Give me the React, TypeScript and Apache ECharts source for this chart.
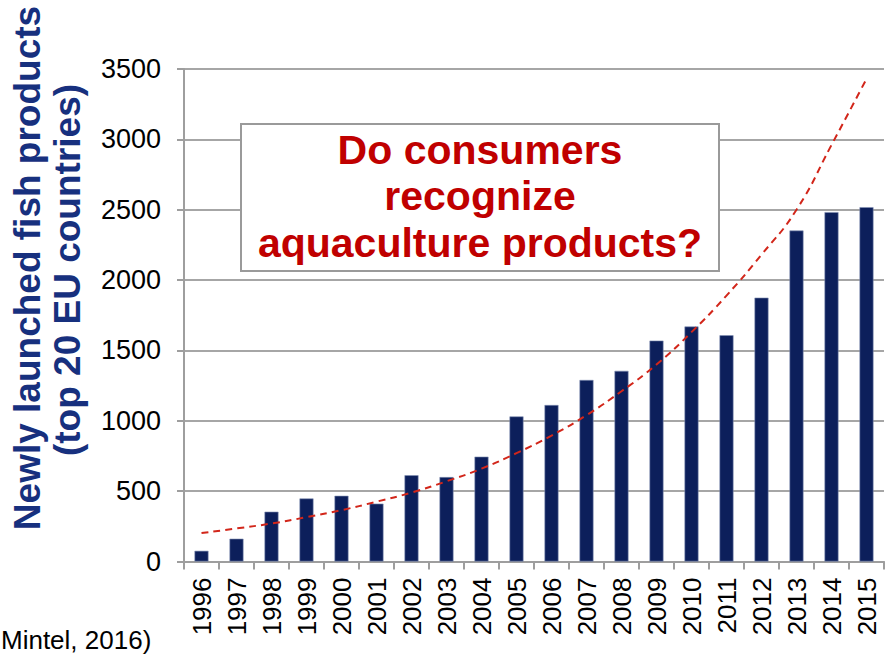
import React, { useEffect, useRef } from "react";
import * as echarts from "echarts";

const years = ["1996","1997","1998","1999","2000","2001","2002","2003","2004","2005","2006","2007","2008","2009","2010","2011","2012","2013","2014","2015"];
const launches = [76, 162, 354, 448, 467, 411, 613, 600, 745, 1031, 1112, 1290, 1355, 1570, 1670, 1608, 1875, 2352, 2483, 2518];
const trend = [202, 235, 270, 315, 365, 425, 490, 570, 660, 770, 895, 1040, 1210, 1400, 1630, 1890, 2180, 2500, 2960, 3430];
const yTitleLines = ["Newly launched fish products", "(top 20 EU countries)"];
const questionLines = ["Do consumers", "recognize", "aquaculture products?"];
const sourceNote = "Mintel, 2016)";

const FONT = "'Liberation Sans', Arial, Helvetica, sans-serif";

export default function App() {
  const ref = useRef<HTMLDivElement>(null);
  useEffect(() => {
    if (!ref.current) return;
    const chart = echarts.init(ref.current, null, { renderer: "svg" });
    chart.setOption({
      animation: false,
      backgroundColor: "#ffffff",
      grid: { left: 184, right: 1, top: 69, bottom: 92.5, containLabel: false },
      xAxis: {
        type: "category",
        data: years,
        boundaryGap: true,
        axisLine: { show: true, lineStyle: { color: "#9e9e9e", width: 2 } },
        axisTick: { show: true, length: 8, inside: false, alignWithLabel: false, lineStyle: { color: "#9e9e9e", width: 2 } },
        axisLabel: { rotate: 90, margin: 16, color: "#000", fontSize: 26, fontFamily: FONT, interval: 0 },
        splitLine: { show: false },
      },
      yAxis: {
        type: "value",
        min: 0,
        max: 3500,
        interval: 500,
        axisLine: { show: true, lineStyle: { color: "#9e9e9e", width: 2 } },
        axisTick: { show: true, length: 7, inside: false, lineStyle: { color: "#9e9e9e", width: 2 } },
        axisLabel: { margin: 23, color: "#000", fontSize: 27, fontFamily: FONT, formatter: (v: number) => String(v) },
        splitLine: { show: true, lineStyle: { color: "#a6a6a6", width: 2 } },
      },
      series: [
        {
          type: "bar",
          data: launches,
          barWidth: 14,
          itemStyle: { color: "#0c1f5b", borderColor: "#8390b4", borderWidth: 0.6 },
          z: 2,
        },
        {
          type: "line",
          data: trend,
          smooth: true,
          symbol: "none",
          lineStyle: { color: "#d2261a", width: 2, type: [7, 5] },
          z: 3,
        },
      ],
      graphic: [
        {
          type: "text",
          x: 27,
          y: 268,
          rotation: Math.PI / 2,
          z: 100,
          style: { text: yTitleLines[0], fill: "#17307e", font: `bold 37px ${FONT}`, align: "center", verticalAlign: "middle" },
        },
        {
          type: "text",
          x: 67,
          y: 270,
          rotation: Math.PI / 2,
          z: 100,
          style: { text: yTitleLines[1], fill: "#17307e", font: `bold 37px ${FONT}`, align: "center", verticalAlign: "middle" },
        },
        {
          type: "rect",
          z: 100,
          shape: { x: 241, y: 124, width: 478, height: 147 },
          style: { fill: "#ffffff", stroke: "#9a9a9a", lineWidth: 2 },
        },
        {
          type: "text",
          x: 480,
          y: 196,
          z: 101,
          style: {
            text: questionLines.join("\n"),
            fill: "#c00000",
            font: `bold 41px ${FONT}`,
            lineHeight: 46.5,
            align: "center",
            verticalAlign: "middle",
          },
        },
        {
          type: "text",
          x: 1,
          y: 640,
          z: 100,
          style: { text: sourceNote, fill: "#000", font: `26px ${FONT}`, align: "left", verticalAlign: "middle" },
        },
      ],
    });
    return () => chart.dispose();
  }, []);
  return <div ref={ref} style={{ width: 885, height: 654, position: "absolute", left: 0, top: 0 }} />;
}
